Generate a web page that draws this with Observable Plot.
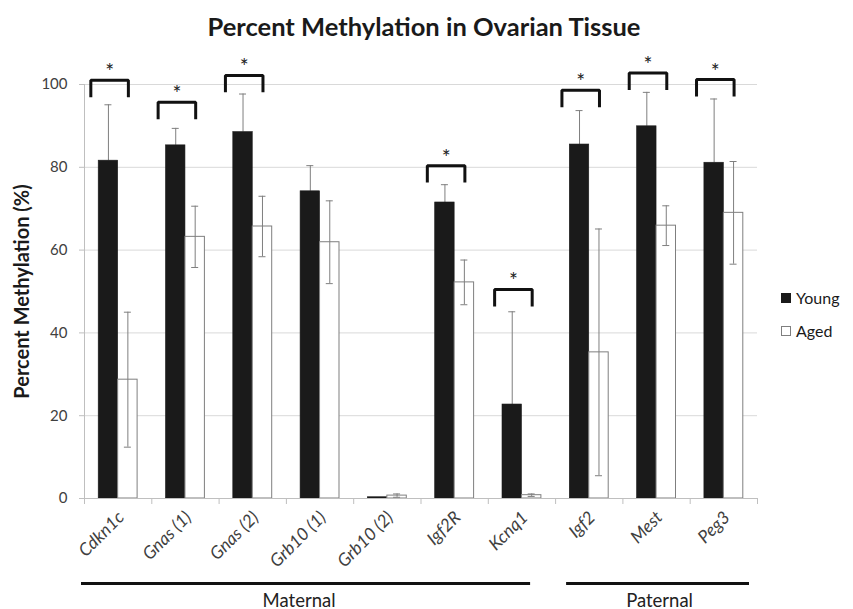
<!DOCTYPE html>
<html><head><meta charset="utf-8">
<script src="https://cdn.jsdelivr.net/npm/d3@7"></script>
<script src="https://cdn.jsdelivr.net/npm/@observablehq/plot@0.6"></script>
<style>
body{margin:0;background:#fff;font-family:Lato,sans-serif;}
#wrap{position:relative;width:853px;height:609px;}
.leg{position:absolute;left:781px;font-family:Lato,sans-serif;font-size:16px;color:#1a1a1a;display:flex;align-items:center;line-height:16px;}
.sw{width:10px;height:10px;margin-right:5px;box-sizing:border-box;}
svg [aria-label^="y-axis"], svg [aria-label^="x-axis"] {color:#bfbfbf;}
svg [aria-label^="y-axis"] text {fill:#404040;}
</style></head><body><div id="wrap"></div>
<script>
// ---- data ----
const genes = ["Cdkn1c","Gnas (1)","Gnas (2)","Grb10 (1)","Grb10 (2)","Igf2R","Kcnq1","Igf2","Mest","Peg3"];
const series = ["Young","Aged"];
const youngMean = [81.6,85.3,88.5,74.2,0.3,71.5,22.7,85.5,89.9,81.1];
const youngErr  = [13.5,4.1,9.2,6.2,0,4.3,22.4,8.2,8.2,15.4];
const agedMean  = [28.7,63.2,65.7,61.9,0.7,52.2,0.8,35.3,65.9,69.0];
const agedErr   = [16.3,7.4,7.3,10.0,0.4,5.4,0.3,29.8,4.8,12.4];
const sigGenes  = ["Cdkn1c","Gnas (1)","Gnas (2)","Igf2R","Kcnq1","Igf2","Mest","Peg3"];
const sigLevel  = [101.0,95.7,102.2,80.4,50.5,98.6,102.8,101.2];
const yTicks = [0,20,40,60,80,100];
const groups = ["Maternal","Paternal"];
const geneGroup = ["Maternal","Maternal","Maternal","Maternal","Maternal","Maternal","Maternal","Paternal","Paternal","Paternal"];
const title = "Percent Methylation in Ovarian Tissue";
const yTitle = "Percent Methylation (%)";

// ---- layout / style ----
const W = 853, H = 609, ML = 84, MR = 96, MT = 84, MB = 111;
const barFrac = 0.289;      // bar width as a fraction of the category step
const capHalf = 0.052;      // half width of error caps (category units)
const legLen = 4.1;         // bracket leg length (y units)
const brL = 0.094, brR = 0.652; // bracket extent within category

const rows = [];
genes.forEach((g, i) => {
  rows.push({gene: g, i, series: "Young", mean: youngMean[i], err: youngErr[i], x1: i + 0.5 - barFrac, x2: i + 0.5});
  rows.push({gene: g, i, series: "Aged", mean: agedMean[i], err: agedErr[i], x1: i + 0.5, x2: i + 0.5 + barFrac});
});
rows.forEach(d => d.cx = (d.x1 + d.x2) / 2);
const young = rows.filter(d => d.series === "Young");
const aged = rows.filter(d => d.series === "Aged");

const bracketPts = [];
sigGenes.forEach((g, k) => {
  const i = genes.indexOf(g), lv = sigLevel[k];
  bracketPts.push({g, x: i + brL, y: lv - legLen}, {g, x: i + brL, y: lv}, {g, x: i + brR, y: lv}, {g, x: i + brR, y: lv - legLen});
});
const stars = sigGenes.map((g, k) => ({g, x: genes.indexOf(g) + (brL + brR) / 2, y: sigLevel[k]}));

const groupSpans = groups.map(name => {
  const idx = genes.map((g, i) => i).filter(i => geneGroup[i] === name);
  return {name, from: d3.min(idx), to: d3.max(idx) + 1};
});
const mat = groupSpans.filter(d => d.name === "Maternal");
const pat = groupSpans.filter(d => d.name === "Paternal");

const plot = Plot.plot({
  width: W, height: H,
  marginLeft: ML, marginRight: MR, marginTop: MT, marginBottom: MB,
  style: {fontFamily: "Lato, sans-serif", fontSize: "15px", color: "#404040", background: "white"},
  x: {domain: [0, genes.length], ticks: d3.range(genes.length + 1), tickSize: 6, tickFormat: () => "", label: null},
  y: {domain: [0, 100], ticks: yTicks, tickSize: 5, tickPadding: 12, label: null},
  marks: [
    Plot.ruleY(yTicks.filter(t => t > 0), {stroke: "#d9d9d9"}),
    Plot.ruleX(young, {x: "cx", y1: "mean", y2: d => d.mean + d.err, stroke: "#7f7f7f"}),
    Plot.ruleY(young.filter(d => d.err > 0), {y: d => d.mean + d.err, x1: d => d.cx - capHalf, x2: d => d.cx + capHalf, stroke: "#7f7f7f"}),
    Plot.rectY(young, {x1: "x1", x2: "x2", y1: 0, y2: "mean", fill: "#1a1a1a", stroke: "#1a1a1a", strokeWidth: 0.6}),
    Plot.rectY(aged, {x1: "x1", x2: "x2", y1: 0, y2: "mean", fill: "white", stroke: "#7f7f7f"}),
    Plot.ruleX(aged, {x: "cx", y1: d => d.mean - d.err, y2: d => d.mean + d.err, stroke: "#7f7f7f"}),
    Plot.ruleY(aged, {y: d => d.mean + d.err, x1: d => d.cx - capHalf, x2: d => d.cx + capHalf, stroke: "#7f7f7f"}),
    Plot.ruleY(aged, {y: d => d.mean - d.err, x1: d => d.cx - capHalf, x2: d => d.cx + capHalf, stroke: "#7f7f7f"}),
    Plot.ruleX([0], {stroke: "#bfbfbf"}),
    Plot.ruleY([0], {stroke: "#bfbfbf"}),
    Plot.line(bracketPts, {x: "x", y: "y", z: "g", stroke: "#111", strokeWidth: 3, strokeLinejoin: "miter", strokeLinecap: "butt"}),
    Plot.text(stars, {x: "x", y: "y", text: () => "*", dy: -1, lineAnchor: "bottom", fontSize: 21, fill: "#222"}),
    Plot.text(genes, {x: (d, i) => i + 0.5, y: 0, text: d => d, rotate: -45, textAnchor: "end", lineAnchor: "middle", dx: 3, dy: 16, fontStyle: "italic", fontSize: 17.5, fill: "#404040"}),
    Plot.ruleY(mat, {y: 0, x1: "from", x2: "to", dy: 85, stroke: "#111", strokeWidth: 3, insetLeft: -3, insetRight: 25}),
    Plot.ruleY(pat, {y: 0, x1: "from", x2: "to", dy: 85, stroke: "#111", strokeWidth: 3, insetLeft: 11, insetRight: 8}),
    Plot.text(mat, {x: d => (d.from + d.to) / 2, y: 0, text: "name", dy: 108, dx: -21, lineAnchor: "bottom", fontSize: 18.5, fill: "#222"}),
    Plot.text(pat, {x: d => (d.from + d.to) / 2, y: 0, text: "name", dy: 108, dx: 3, lineAnchor: "bottom", fontSize: 18.5, fill: "#222"}),
    Plot.text([title], {frameAnchor: "top", text: d => d, dy: -49, dx: 3, lineAnchor: "bottom", fontSize: 25.5, fontWeight: "bold", fill: "#1a1a1a"}),
    Plot.text([yTitle], {frameAnchor: "left", text: d => d, dx: -62, rotate: -90, textAnchor: "middle", lineAnchor: "middle", fontSize: 20, fontWeight: "bold", fill: "#1a1a1a"})
  ]
});
const wrap = document.getElementById("wrap");
wrap.appendChild(plot);
[["Young", "#1a1a1a", "#1a1a1a", 293], ["Aged", "#ffffff", "#7f7f7f", 326]].forEach(([name, fill, stroke, top]) => {
  const el = document.createElement("div");
  el.className = "leg";
  el.style.top = (top - 3) + "px";
  const sw = document.createElement("div");
  sw.className = "sw";
  sw.style.background = fill;
  sw.style.border = "1px solid " + stroke;
  el.appendChild(sw);
  el.appendChild(document.createTextNode(name));
  wrap.appendChild(el);
});
</script></body></html>
